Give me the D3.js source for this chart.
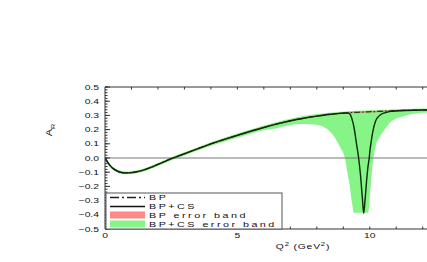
<!DOCTYPE html>
<html><head><meta charset="utf-8">
<script src="https://cdn.jsdelivr.net/npm/d3@7"></script>
<style>html,body{margin:0;padding:0;background:#fff;overflow:hidden}</style>
</head><body>
<script>
// ---- data ----
const q = [0,0.1,0.2,0.3,0.5,0.75,1,1.5,2,2.5,3,4,5,6,6.5,7,7.5,8,8.3,8.6,8.87,9.06,9.18,9.25,9.3,9.35,9.4,9.5,9.58,9.65,9.72,9.77,9.82,9.9,9.94,9.98,10.0,10.05,10.1,10.22,10.35,10.45,10.6,10.8,11.3,12,12.3];
const bp = [0,-0.03,-0.055,-0.073,-0.095,-0.105,-0.103,-0.082,-0.045,-0.005,0.03,0.1,0.16,0.215,0.24,0.262,0.28,0.295,0.303,0.309,0.314,0.317,0.319,0.32,0.32,0.321,0.321,0.322,0.322,0.323,0.323,0.324,0.324,0.325,0.325,0.325,0.326,0.326,0.326,0.327,0.328,0.329,0.33,0.332,0.335,0.338,0.338];
const bpcs = [0,-0.03,-0.055,-0.073,-0.095,-0.105,-0.103,-0.082,-0.045,-0.005,0.03,0.1,0.16,0.215,0.24,0.262,0.28,0.295,0.303,0.309,0.314,0.317,0.316,0.31,0.29,0.26,0.22,0.1,0.0,-0.12,-0.28,-0.39,-0.3,-0.12,-0.05,0.0,0.04,0.11,0.17,0.26,0.295,0.31,0.32,0.328,0.335,0.338,0.338];
const bandLow = [-0.01,-0.04,-0.065,-0.083,-0.105,-0.115,-0.113,-0.093,-0.056,-0.017,0.018,0.086,0.143,0.195,0.21,0.232,0.24,0.235,0.215,0.165,0.08,0.0,-0.13,-0.2,-0.28,-0.34,-0.385,-0.385,-0.385,-0.385,-0.385,-0.385,-0.385,-0.385,-0.385,-0.33,-0.28,-0.17,-0.06,0.08,0.14,0.17,0.21,0.255,0.295,0.318,0.322];
const bandHigh = [0.008,-0.02,-0.045,-0.063,-0.085,-0.095,-0.093,-0.072,-0.035,0.006,0.041,0.111,0.172,0.228,0.254,0.277,0.295,0.309,0.316,0.321,0.325,0.328,0.329,0.33,0.33,0.331,0.331,0.332,0.332,0.333,0.333,0.334,0.334,0.335,0.335,0.335,0.336,0.336,0.336,0.337,0.338,0.339,0.34,0.342,0.345,0.348,0.348];
const yTicks = [0.5,0.4,0.3,0.2,0.1,0.0,-0.1,-0.2,-0.3,-0.4,-0.5];
const xTicks = [0,5,10];
const legendLabels = ["BP","BP+CS","BP error band","BP+CS error band"];

// ---- layout ----
const W = 427, H = 262;
const x = d3.scaleLinear().domain([0, 12.2]).range([105, 428]);
const y = d3.scaleLinear().domain([-0.5, 0.5]).range([229, 87]);
const SX = 1.38; // horizontal stretch of the original's text

const svg = d3.select("body").append("svg").attr("width", W).attr("height", H)
  .style("font-family", "'Liberation Sans', Arial, sans-serif");

svg.append("defs").append("clipPath").attr("id","clip")
  .append("rect").attr("x",105).attr("y",87).attr("width",330).attr("height",142);

function stretchedText(g, tx, ty, txt, size, anchor, spacing) {
  return g.append("text")
    .attr("transform", `translate(${tx},${ty}) scale(${SX},1)`)
    .attr("font-size", size)
    .attr("text-anchor", anchor)
    .attr("letter-spacing", spacing || 0)
    .attr("fill", "#111")
    .text(txt);
}

const rows = q.map((v,i)=>({q:v, bp:bp[i], bpcs:bpcs[i], lo:bandLow[i], hi:bandHigh[i]}));
const plot = svg.append("g").attr("clip-path","url(#clip)");

// green band (BP+CS)
plot.append("path").datum(rows)
  .attr("d", d3.area().x(d=>x(d.q)).y0(d=>y(d.lo)).y1(d=>y(d.hi)).curve(d3.curveMonotoneX))
  .attr("fill", "#86f486");
// red band (BP)
plot.append("path").datum(rows)
  .attr("d", d3.area().x(d=>x(d.q)).y0(d=>y(d.bp-0.006)).y1(d=>y(d.bp+0.006)).curve(d3.curveMonotoneX))
  .attr("fill", "#c8705a").attr("opacity", 0.55);

// zero line
plot.append("line").attr("x1",x(0)).attr("x2",W+5).attr("y1",y(0)).attr("y2",y(0))
  .attr("stroke","#777").attr("stroke-width",1);

// BP (dash-dot)
plot.append("path").datum(rows)
  .attr("d", d3.line().x(d=>x(d.q)).y(d=>y(d.bp)).curve(d3.curveMonotoneX))
  .attr("fill","none").attr("stroke","#2a3a1a").attr("stroke-width",1.2)
  .attr("stroke-dasharray","6,2,1.5,2");
// BP+CS (solid)
plot.append("path").datum(rows)
  .attr("d", d3.line().x(d=>x(d.q)).y(d=>y(d.bpcs)).curve(d3.curveMonotoneX))
  .attr("fill","none").attr("stroke","#0a2a0a").attr("stroke-width",1.4);

// axes frame
const ax = svg.append("g").attr("stroke","#333").attr("stroke-width",1);
ax.append("line").attr("x1",105).attr("x2",W).attr("y1",y(0.5)).attr("y2",y(0.5));
ax.append("line").attr("x1",105).attr("x2",W).attr("y1",y(-0.5)).attr("y2",y(-0.5));
ax.append("line").attr("x1",105).attr("x2",105).attr("y1",y(0.5)).attr("y2",y(-0.5));

// x ticks (every unit) top and bottom
const xMinor = d3.range(1, 13);
ax.selectAll(".xt").data(xMinor).enter().append("line")
  .attr("x1",d=>x(d)).attr("x2",d=>x(d)).attr("y1",y(0.5)).attr("y2",y(0.5)+2.5);
ax.selectAll(".xb").data(xMinor).enter().append("line")
  .attr("x1",d=>x(d)).attr("x2",d=>x(d)).attr("y1",y(-0.5)).attr("y2",y(-0.5)-2.5);
// y ticks: major every 0.1, minor every 0.02
const yMinor = d3.range(-0.5, 0.5001, 0.02);
ax.selectAll(".ym").data(yMinor).enter().append("line")
  .attr("x1",105).attr("x2",107.5).attr("y1",d=>y(d)).attr("y2",d=>y(d));
ax.selectAll(".yM").data(yTicks).enter().append("line")
  .attr("x1",105).attr("x2",110).attr("y1",d=>y(d)).attr("y2",d=>y(d));

// tick labels
const lab = svg.append("g");
yTicks.forEach(t => stretchedText(lab, 99, y(t)+2.6, d3.format(".1f")(t).replace("-","−"), 7.5, "end"));
xTicks.forEach(t => stretchedText(lab, x(t), 238, String(t), 7.5, "middle"));

// axis titles
const xt = svg.append("text")
  .attr("transform", `translate(303,249) scale(${SX},1)`)
  .attr("font-size", 7.5).attr("text-anchor","middle").attr("letter-spacing",0.6).attr("fill","#111");
xt.append("tspan").text("Q");
xt.append("tspan").attr("dy",-3).attr("font-size",5.5).text("2");
xt.append("tspan").attr("dy",3).text(" (GeV");
xt.append("tspan").attr("dy",-3).attr("font-size",5.5).text("2");
xt.append("tspan").attr("dy",3).text(")");

const yt = svg.append("text")
  .attr("transform","translate(52,130) rotate(-90) scale(1.2,1)")
  .attr("font-size",9).attr("text-anchor","middle").attr("fill","#111");
yt.append("tspan").text("A");
yt.append("tspan").attr("dy",2.5).attr("font-size",6).text("R");

// legend
const lg = svg.append("g");
lg.append("rect").attr("x",106).attr("y",193).attr("width",176).attr("height",36)
  .attr("fill","#fff").attr("stroke","#555").attr("stroke-width",1);
const rowY = [197.5, 206.5, 215, 224];
lg.append("line").attr("x1",110).attr("x2",145).attr("y1",rowY[0]).attr("y2",rowY[0])
  .attr("stroke","#222").attr("stroke-width",1.3).attr("stroke-dasharray","9,3,2,3");
lg.append("line").attr("x1",110).attr("x2",145).attr("y1",rowY[1]).attr("y2",rowY[1])
  .attr("stroke","#111").attr("stroke-width",1.6);
lg.append("rect").attr("x",110).attr("y",rowY[2]-3.5).attr("width",35).attr("height",7).attr("fill","#ff8888");
lg.append("rect").attr("x",110).attr("y",rowY[3]-3.5).attr("width",35).attr("height",7).attr("fill","#86f486");
legendLabels.forEach((t,i)=> stretchedText(lg, 149, rowY[i]+2.8, t, 7.8, "start", 1.8));
</script>
</body></html>
